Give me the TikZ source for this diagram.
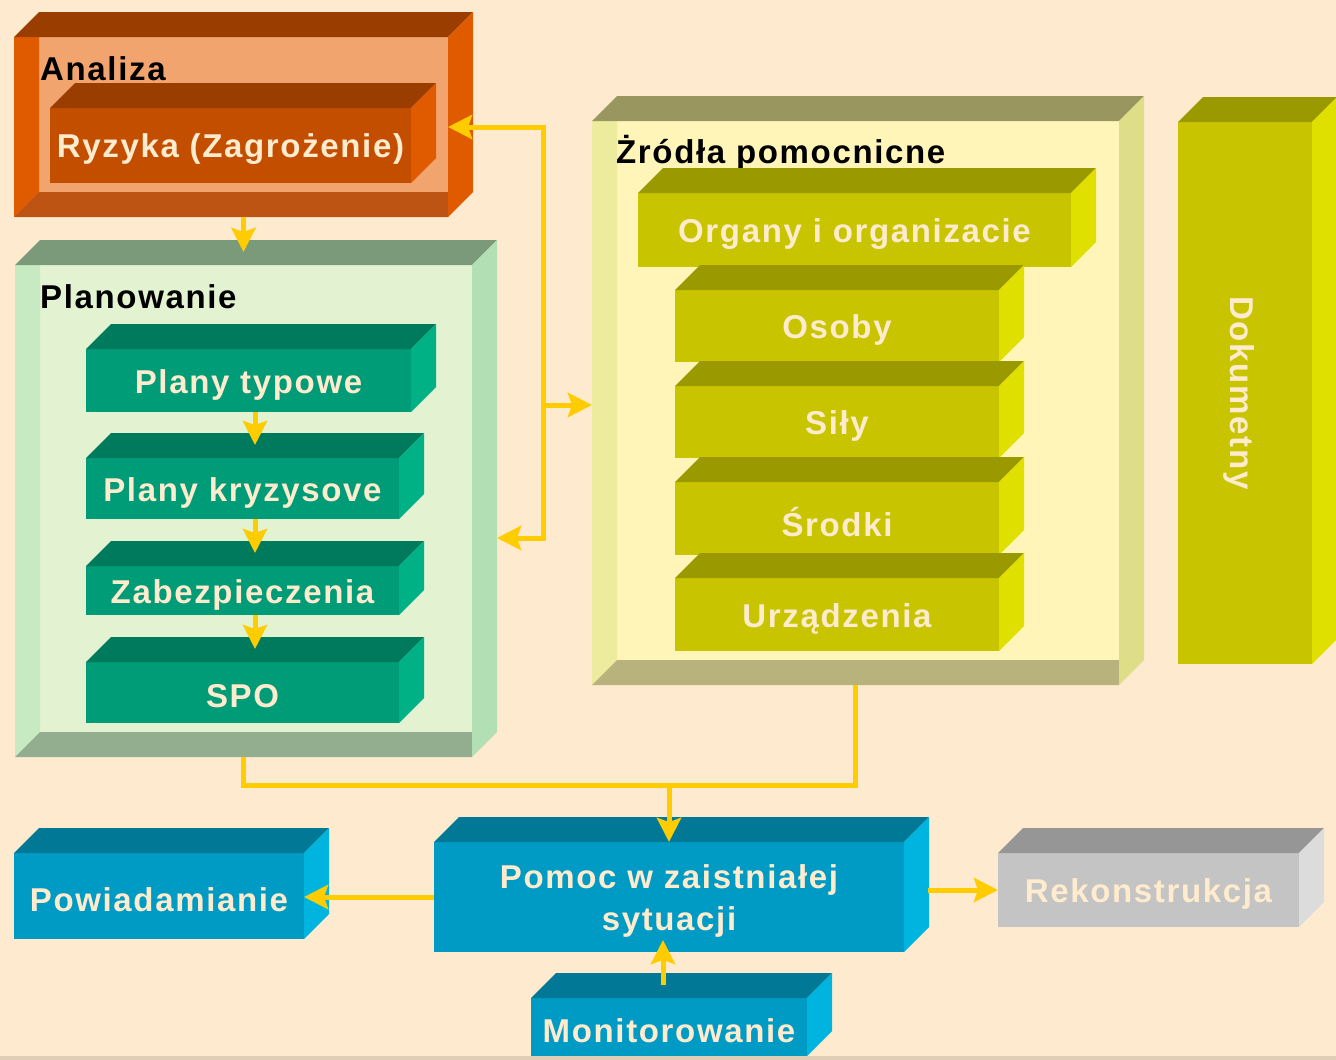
\documentclass[tikz,border=0pt]{standalone}
\usepackage{fontspec}
\setmainfont{Liberation Sans}[LetterSpace=5]
\usetikzlibrary{arrows.meta,fit}

\definecolor{tlo}{HTML}{FEEBCF}
\definecolor{krem}{HTML}{FFEBCD}
\definecolor{zolty}{HTML}{FFCC00}
% Analiza
\definecolor{aB}{HTML}{F2A46E}\definecolor{aL}{HTML}{E05A00}\definecolor{aD}{HTML}{BE5414}
\definecolor{aT}{HTML}{993D00}\definecolor{aS}{HTML}{E05A00}
\definecolor{rF}{HTML}{C44E00}\definecolor{rT}{HTML}{993D00}\definecolor{rS}{HTML}{E05A00}
% Planowanie
\definecolor{pB}{HTML}{E3F3D2}\definecolor{pL}{HTML}{C8EAC2}\definecolor{pD}{HTML}{93AE8E}
\definecolor{pT}{HTML}{7B9A7A}\definecolor{pS}{HTML}{B2DFB3}
\definecolor{gF}{HTML}{009B77}\definecolor{gT}{HTML}{007A5C}\definecolor{gS}{HTML}{00B185}
% Zrodla
\definecolor{zB}{HTML}{FFF5B8}\definecolor{zL}{HTML}{EDEB9E}\definecolor{zD}{HTML}{B8B37C}
\definecolor{zT}{HTML}{9A9660}\definecolor{zS}{HTML}{DEDD88}
\definecolor{oF}{HTML}{C8C400}\definecolor{oT}{HTML}{9A9A00}\definecolor{oS}{HTML}{E0E000}
% dol
\definecolor{bF}{HTML}{009BC4}\definecolor{bT}{HTML}{007896}\definecolor{bS}{HTML}{00B4E0}
\definecolor{sF}{HTML}{C4C4C4}\definecolor{sT}{HTML}{969696}\definecolor{sS}{HTML}{DCDCDC}

% klocek: nazwa, kolory, lewy gorny, prawy dolny, tekst
\newcommand{\klocek}[5]{%
  \node[inner sep=0pt, outer sep=0pt, fill=#2F, fit={#3 #4}] (#1) {};
  \fill[#2T] (#1.north west) -- ++(25,-25) -- ([shift={(25,-25)}]#1.north east) -- (#1.north east) -- cycle;
  \fill[#2S] (#1.north east) -- ++(25,-25) -- ([shift={(25,-25)}]#1.south east) -- (#1.south east) -- cycle;
  \node[blok] (#1t) at ([yshift=-4pt]#1.center) {#5};
}
% rama: nazwa, kolory, lewy gorny, prawy dolny
\newcommand{\rama}[4]{%
  \node[inner sep=0pt, outer sep=0pt, fill=#2B, fit={#3 #4}] (#1) {};
  \fill[#2L] (#1.north west) -- ++(25,0) -- ([shift={(25,-25)}]#1.south west) -- (#1.south west) -- cycle;
  \fill[#2D] (#1.south west) -- ++(25,-25) -- ([shift={(0,-25)}]#1.south east) -- (#1.south east) -- cycle;
  \fill[#2T] (#1.north west) -- ++(25,-25) -- ([shift={(25,-25)}]#1.north east) -- (#1.north east) -- cycle;
  \fill[#2S] (#1.north east) -- ++(25,-25) -- ([shift={(25,-25)}]#1.south east) -- (#1.south east) -- cycle;
}

\tikzset{
  blok/.style={inner sep=0pt, outer sep=0pt, text=krem, align=center,
    font=\fontsize{33}{42}\selectfont\bfseries},
  tytul/.style={inner sep=0pt, anchor=base west, font=\fontsize{33}{38}\selectfont\bfseries},
  linia/.style={draw=zolty, line width=5pt},
  strz/.style={linia, -{Stealth[width=24pt,length=24pt,inset=4pt]}},
}

\begin{document}
\begin{tikzpicture}[x=1pt,y=-1pt]
	\fill[tlo] (0,0) rectangle (1336,1060);
	\useasboundingbox (0,0) rectangle (1336,1060);
	\fill[black!12!tlo] (0,1056) rectangle (1336,1060);
	
	% ramy
	\rama{anal}{a}{(14,37)}{(448,217)}
	\node[tytul] (tanal) at (40,80) {Analiza};
	\klocek{ryz}{r}{(50,108)}{(411,183)}{Ryzyka (Zagrożenie)}
	
	\rama{plan}{p}{(15,265)}{(472,757)}
	\node[tytul] (tplan) at (40,308) {Planowanie};
	\klocek{typ}{g}{(86,349)}{(411,412)}{Plany typowe}
	\klocek{kryz}{g}{(86,458)}{(399,519)}{Plany kryzysove}
	\klocek{zab}{g}{(86,566)}{(399,615)}{Zabezpieczenia}
	\klocek{spo}{g}{(86,662)}{(399,723)}{SPO}
	
	\rama{zr}{z}{(592,121)}{(1119,685)}
	\node[tytul] (tzr) at (616,163) {Żródła pomocnicne};
	\klocek{org}{o}{(638,193)}{(1071,267)}{Organy i organizacie}
	\klocek{oso}{o}{(675,290)}{(999,362)}{Osoby}
	\klocek{sil}{o}{(675,386)}{(999,458)}{Siły}
	\klocek{sro}{o}{(675,482)}{(999,555)}{Środki}
	\klocek{urz}{o}{(675,578)}{(999,651)}{Urządzenia}
	
	\klocek{dok}{o}{(1178,122)}{(1312,664)}{}
	\node[blok, rotate=-90] (tdok) at ([xshift=-6pt]dok.center) {Dokumetny};
	
	% dol
	\klocek{pow}{b}{(14,853)}{(304,939)}{Powiadamianie}
	\klocek{pom}{b}{(434,842)}{(904,952)}{Pomoc w zaistniałej\\sytuacji}
	\klocek{mon}{b}{(531,998)}{(807,1056)}{Monitorowanie}
	\klocek{rek}{s}{(998,853)}{(1299,927)}{Rekonstrukcja}
	
	% strzalki
	\coordinate (os) at (255,0);
	\coordinate (wezel) at (543,405);
	\coordinate (zbieg) at (669,785);
	\draw[strz, shorten >=13pt] (anal.south -| plan.north) -- (plan.north);
	\draw[strz, shorten >=13pt] (typ.south -| os) -- (kryz.north -| os);
	\draw[strz, shorten >=13pt] (kryz.south -| os) -- (zab.north -| os);
	\draw[strz, shorten >=13pt] (zab.south -| os) -- (spo.north -| os);
	\draw[strz] (wezel) |- (anal.east);
	\draw[strz] (wezel) |- ([shift={(25,27)}]plan.east);
	\draw[strz] (wezel) -- (wezel -| zr.west);
	\draw[linia] (plan.south) |- (zbieg);
	\draw[linia] (zr.south) |- (zbieg);
	\draw[strz] (zbieg) -- (pom.north);
	\draw[strz] (pom.west) -- (pom.west -| pow.east);
	\draw[strz, shorten <=24pt] (pom.east |- rek.west) -- (rek.west);
	\draw[strz] ([xshift=-6pt,yshift=13pt]mon.north) -- ([xshift=-6pt,yshift=12pt]pom.south);
\end{tikzpicture}
\end{document}
